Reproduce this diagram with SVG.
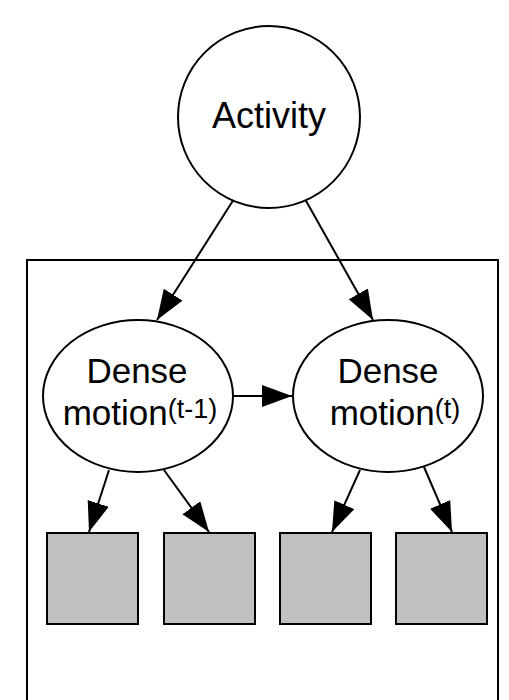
<svg xmlns="http://www.w3.org/2000/svg" width="509" height="700" viewBox="0 0 509 700">
<defs>
<style>
.node{fill:#fff;stroke:#000;stroke-width:2}
.obs{fill:#c0c0c0;stroke:#000;stroke-width:2}
.edge{stroke:#000;stroke-width:2;fill:none;marker-end:url(#arr)}
text{font-family:"Liberation Sans",Arial,sans-serif;fill:#000;text-anchor:middle}
.lbl{font-size:35px}
.sup{font-size:27px}
</style>
<marker id="arr" markerUnits="userSpaceOnUse" markerWidth="32" markerHeight="24" refX="30" refY="11" orient="auto">
<path d="M0,0 L30,11 L0,22 Z" fill="#000"/>
</marker>
</defs>
<rect x="0" y="0" width="509" height="700" fill="#fff"/>
<g id="plate"><rect x="27" y="260" width="471" height="470" fill="none" stroke="#000" stroke-width="2"/></g>
<g id="connectors">
<line class="edge" x1="234" y1="199" x2="157" y2="320"/>
<line class="edge" x1="305" y1="199" x2="373" y2="320"/>
<line class="edge" x1="233" y1="396" x2="292" y2="396"/>
<line class="edge" x1="109" y1="470" x2="89" y2="532"/>
<line class="edge" x1="164" y1="470" x2="209" y2="532"/>
<line class="edge" x1="360" y1="470" x2="332" y2="532"/>
<line class="edge" x1="424" y1="467" x2="452" y2="532"/>
</g>
<g id="activity">
<circle class="node" cx="269" cy="117" r="91"/>
<text class="lbl" x="269" y="128" style="font-size:36px">Activity</text>
</g>
<g id="dense_prev">
<ellipse class="node" cx="138" cy="396" rx="95" ry="76"/>
<text class="lbl" x="137" y="383">Dense</text>
<text class="lbl" x="140" y="425">motion<tspan class="sup" dy="-7">(t-1)</tspan></text>
</g>
<g id="dense_t">
<ellipse class="node" cx="388" cy="396" rx="95" ry="76"/>
<text class="lbl" x="388" y="383">Dense</text>
<text class="lbl" x="395" y="425">motion<tspan class="sup" dy="-7">(t)</tspan></text>
</g>
<g id="obs1"><rect class="obs" x="47" y="533" width="91" height="91"/></g>
<g id="obs2"><rect class="obs" x="164" y="533" width="91" height="91"/></g>
<g id="obs3"><rect class="obs" x="280" y="533" width="91" height="91"/></g>
<g id="obs4"><rect class="obs" x="396" y="533" width="91" height="91"/></g>
</svg>
